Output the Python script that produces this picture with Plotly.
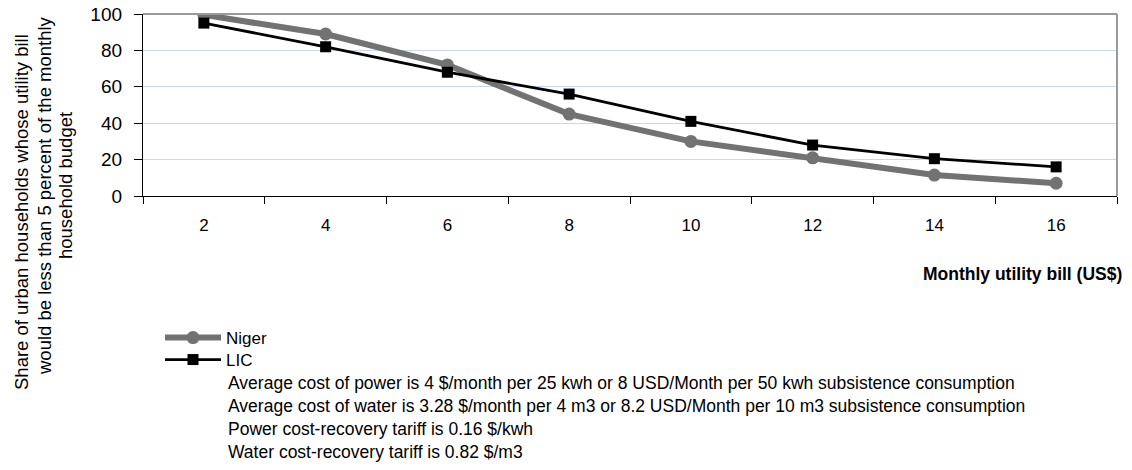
import plotly.graph_objects as go

categories = ["2", "4", "6", "8", "10", "12", "14", "16"]
niger = [99.5, 89, 72, 45, 30, 21, 11.5, 7]
lic = [95, 82, 68, 56, 41, 28, 20.5, 16]
y_ticks = [0, 20, 40, 60, 80, 100]
y_title_lines = [
    "Share of urban households whose utility bill",
    "would be less than 5 percent of the monthly",
    "household budget",
]
x_title = "Monthly utility bill (US$)"
notes = [
    "Average cost of power is 4 $/month per 25 kwh or 8 USD/Month per 50 kwh subsistence consumption",
    "Average cost of water is 3.28 $/month per 4 m3 or 8.2 USD/Month per 10 m3 subsistence consumption",
    "Power cost-recovery tariff is 0.16 $/kwh",
    "Water cost-recovery tariff is 0.82 $/m3",
]

FONT = "Liberation Sans"
W, H = 1132, 470
L, R, T, B = 143, 15, 14, 274

fig = go.Figure()
fig.add_trace(go.Scatter(
    x=categories, y=niger, name="Niger", mode="lines+markers",
    line=dict(color="#727272", width=6),
    marker=dict(symbol="circle", size=13, color="#727272"),
    legend="legend",
))
fig.add_trace(go.Scatter(
    x=categories, y=lic, name="LIC", mode="lines+markers",
    line=dict(color="#000000", width=2.8),
    marker=dict(symbol="square", size=11, color="#000000"),
    legend="legend2",
))

def px_x(p):
    return (p - L) / (W - L - R)

def px_y(p):
    return 1 - (p - T) / (H - T - B)

legend_common = dict(
    x=px_x(160), xanchor="left", yanchor="top",
    font=dict(family=FONT, size=17),
    bgcolor="rgba(0,0,0,0)", itemwidth=56,
)

fig.update_layout(
    width=W, height=H,
    margin=dict(l=L, r=R, t=T, b=B, autoexpand=False),
    paper_bgcolor="white", plot_bgcolor="white",
    font=dict(family=FONT, size=17, color="#000000"),
    showlegend=True,
    legend=dict(y=px_y(320), **legend_common),
    legend2=dict(y=px_y(342), **legend_common),
    xaxis=dict(
        type="category", range=[-0.5, 7.5],
        showline=True, linecolor="#000000", linewidth=1.3,
        ticks="outside", tickson="boundaries", ticklen=7, tickcolor="#000000",
        showgrid=False, tickfont=dict(size=17), ticklabelstandoff=13,
    ),
    yaxis=dict(
        range=[0, 100], tickvals=y_ticks,
        showline=True, linecolor="#000000", linewidth=1.3,
        ticks="outside", ticklen=8, tickcolor="#000000",
        showgrid=True, gridcolor="#c9d8ee", gridwidth=1.2,
        zeroline=False, tickfont=dict(size=19), ticklabelstandoff=8,
    ),
)

# plot frame: top and right borders in grey
fig.add_shape(type="line", xref="paper", yref="paper", x0=0, x1=1, y0=1, y1=1,
              line=dict(color="#9a9a9a", width=2))
fig.add_shape(type="line", xref="paper", yref="paper", x0=1, x1=1, y0=0, y1=1,
              line=dict(color="#9a9a9a", width=2))

# y-axis title, three rotated lines
for (cx, cy), line in zip([(22, 212), (44, 196), (65, 186)], y_title_lines):
    fig.add_annotation(text=line, xref="paper", yref="paper",
                       x=px_x(cx), y=px_y(cy), xanchor="center", yanchor="middle",
                       textangle=-90, showarrow=False, font=dict(size=18.5))

# x-axis title
fig.add_annotation(text="<b>" + x_title + "</b>", xref="paper", yref="paper",
                   x=px_x(1124), y=px_y(274), xanchor="right", yanchor="middle",
                   showarrow=False, font=dict(size=17.5))

# notes below legend
for i, n in enumerate(notes):
    fig.add_annotation(text=n, xref="paper", yref="paper",
                       x=px_x(226), y=px_y(383 + 23 * i), xanchor="left", yanchor="middle",
                       showarrow=False, font=dict(size=17.5))

fig.write_html("out.html", config={"displayModeBar": False},
               post_script="document.body.style.margin='0';")
